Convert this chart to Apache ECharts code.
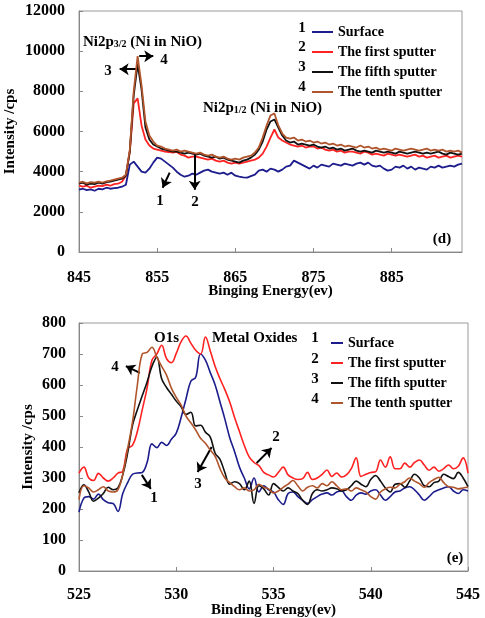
<!DOCTYPE html>
<html>
<head>
<meta charset="utf-8">
<script src="https://cdn.jsdelivr.net/npm/echarts@6/dist/echarts.min.js"></script>
<style>
  html, body { margin: 0; background: #fff; }
  #chart { width: 485px; height: 618px; }
</style>
</head>
<body>
<div id="chart"></div>
<script>
// Ni2p spectra (panel d)
const niEnergy = [
  845, 845.5, 846, 846.5, 847, 847.5, 848, 848.5, 849, 849.5,
  850, 850.5, 851, 851.5, 852, 852.5, 853, 853.5, 854, 854.5,
  855, 855.5, 856, 856.5, 857, 857.5, 858, 858.5, 859, 859.5,
  860, 860.5, 861, 861.5, 862, 862.5, 863, 863.5, 864, 864.5,
  865, 865.5, 866, 866.5, 867, 867.5, 868, 868.5, 869, 869.5,
  870, 870.5, 871, 871.5, 872, 872.5, 873, 873.5, 874, 874.5,
  875, 875.5, 876, 876.5, 877, 877.5, 878, 878.5, 879, 879.5,
  880, 880.5, 881, 881.5, 882, 882.5, 883, 883.5, 884, 884.5,
  885, 885.5, 886, 886.5, 887, 887.5, 888, 888.5, 889, 889.5,
  890, 890.5, 891, 891.5, 892, 892.5, 893, 893.5, 894
];
const niSurface = [
  3100, 3150, 3080, 3120, 3050, 3150, 3120, 3200, 3150, 3180,
  3200, 3250, 3350, 4350, 4500, 4250, 4000, 3950, 4150, 4450,
  4700, 4650, 4500, 4350, 4200, 4000, 3850, 3750, 3800, 3900,
  3850, 3950, 4050, 4100, 4000, 3950, 3900, 3950, 3850, 3950,
  3800, 3750, 3720, 3700, 3780, 3850, 4050, 4100, 4000, 4150,
  4100, 4000, 4100, 4250, 4300, 4550, 4450, 4350, 4250, 4150,
  4300, 4200, 4350, 4300, 4250, 4400, 4350, 4300, 4400, 4350,
  4300, 4400, 4450, 4350, 4450, 4300, 4250, 4300, 4150, 4050,
  4100, 4250, 4200, 4300, 4150, 4250, 4100, 4200, 4150, 4100,
  4250, 4200, 4300, 4200, 4250, 4300, 4250, 4350, 4400
];
const niFirst = [
  3300, 3250, 3300, 3200, 3250, 3300, 3280, 3350, 3300, 3380,
  3400, 3500, 3800, 5000, 7400, 7650, 6300, 5600, 5300, 5150,
  5100, 5050, 5000, 4980, 4950, 4980, 4850, 4800, 4700, 4750,
  4750, 4700, 4650, 4600, 4650, 4550, 4500, 4550, 4450, 4400,
  4450, 4400, 4450, 4500, 4550, 4600, 4700, 4900, 5250, 5700,
  6100, 5700, 5550, 5450, 5350, 5300, 5250, 5300, 5200, 5250,
  5250, 5150, 5200, 5100, 5050, 5100, 5000, 5050, 4950, 5000,
  5000, 4950, 4900, 5000, 4950, 4850, 4900, 4850, 4800, 4900,
  4850, 4800, 4850, 4800, 4750, 4800, 4850, 4750, 4800, 4700,
  4750, 4800, 4700, 4750, 4800, 4700, 4750, 4800, 4750
];
const niFifth = [
  3400, 3450, 3350, 3400, 3380, 3450, 3400, 3480, 3500, 3550,
  3600, 3650, 3800, 5000, 7800, 9350, 8100, 6200, 5600, 5350,
  5250, 5150, 5100, 5050, 5000, 5000, 4950, 4900, 4950, 4900,
  4850, 4900, 4800, 4750, 4700, 4750, 4650, 4700, 4600, 4550,
  4500, 4450, 4550, 4600, 4700, 4850, 5100, 5500, 6100, 6500,
  6600, 6200, 5800, 5550, 5450, 5500, 5350, 5400, 5350, 5300,
  5350, 5250, 5200, 5250, 5150, 5200, 5100, 5150, 5050, 5100,
  5150, 5050, 5000, 5050, 5000, 4950, 5050, 5000, 4950, 5000,
  4950, 4900, 5000, 4950, 4900, 4950, 5000, 4950, 4900, 4950,
  4900, 4950, 5000, 4900, 4850, 4950, 4900, 4850, 4900
];
const niTenth = [
  3450, 3500, 3420, 3480, 3450, 3500, 3460, 3520, 3550, 3600,
  3650, 3700, 3850, 5100, 8000, 9750, 8300, 6500, 5800, 5500,
  5300, 5250, 5150, 5100, 5050, 5100, 5000, 5050, 5000, 4950,
  4900, 4950, 4850, 4800, 4850, 4750, 4700, 4750, 4650, 4600,
  4650, 4600, 4700, 4750, 4800, 4950, 5200, 5700, 6300, 6800,
  6900, 6300, 5900, 5700, 5650, 5700, 5550, 5600, 5500, 5550,
  5450, 5500, 5400, 5450, 5350, 5400, 5300, 5350, 5250, 5300,
  5250, 5200, 5300, 5200, 5250, 5150, 5200, 5100, 5150, 5100,
  5050, 5150, 5100, 5050, 5100, 5150, 5100, 5050, 5100, 5150,
  5050, 5100, 5050, 5100, 5000, 5050, 5000, 5050, 4950
];

// O1s spectra (panel e)
const oEnergy = [
  525, 525.25, 525.5, 525.75, 526, 526.25, 526.5, 526.75,
  527, 527.25, 527.5, 527.75, 528, 528.25, 528.5, 528.75,
  529, 529.25, 529.5, 529.75, 530, 530.25, 530.5, 530.75,
  531, 531.25, 531.5, 531.75, 532, 532.25, 532.5, 532.75,
  533, 533.25, 533.5, 533.75, 534, 534.25, 534.5, 534.75,
  535, 535.25, 535.5, 535.75, 536, 536.25, 536.5, 536.75,
  537, 537.25, 537.5, 537.75, 538, 538.25, 538.5, 538.75,
  539, 539.25, 539.5, 539.75, 540, 540.25, 540.5, 540.75,
  541, 541.25, 541.5, 541.75, 542, 542.25, 542.5, 542.75,
  543, 543.25, 543.5, 543.75, 544, 544.25, 544.5, 544.75,
  545
];
const oSurface = [
  190, 235, 240, 232, 248, 230, 220, 218,
  192, 250, 285, 312, 316, 318, 350, 410,
  398, 415, 405, 425, 445, 495, 555, 612,
  625, 700, 680, 640, 600, 545, 490, 430,
  385, 335, 300, 265, 300, 255, 275, 262,
  255, 230, 215, 250, 255, 240, 228, 218,
  230, 240, 248, 252, 245, 255, 258, 240,
  228, 245, 252, 248, 258, 262, 245, 228,
  240, 255, 258, 268, 272, 262, 245, 228,
  240, 255, 262, 268, 272, 258, 250, 262,
  258
];
const oFirst = [
  316, 335, 300, 292, 315, 300, 290, 300,
  316, 322, 395, 405, 450, 520, 590, 680,
  700, 728, 685, 672, 702, 740, 758, 735,
  712, 700, 755, 710, 660, 620, 585, 545,
  495, 450, 405, 368, 350, 340, 318, 310,
  303, 318, 335, 310, 300, 295, 298, 318,
  295, 300, 312, 326, 305, 316, 303, 310,
  330, 365, 305, 312, 318, 320, 358, 335,
  368, 330, 330, 348, 335, 350, 358, 342,
  325, 335, 322, 330, 342, 330, 338, 365,
  316
];
const oFifth = [
  252, 278, 255, 225, 235, 250, 270, 262,
  268, 310, 380, 470, 520, 565, 610, 660,
  690, 620, 592, 570, 548, 530, 505, 512,
  468, 470, 448, 432, 380, 360, 318, 280,
  288, 282, 262, 290, 218, 275, 265, 245,
  282, 270, 258, 268, 258, 250, 228, 215,
  250, 262, 258, 262, 268, 265, 258, 262,
  275, 290, 280, 272, 295, 308, 290, 268,
  255, 280, 282, 270, 290, 312, 300, 275,
  272, 285, 290, 312, 305, 298, 318, 300,
  272
];
const oTenth = [
  230, 275, 268, 255, 262, 272, 258, 255,
  262, 312, 395, 480, 600, 700, 705, 722,
  690, 660, 632, 590, 560, 535, 500, 478,
  455, 428, 412, 390, 370, 330, 300, 285,
  272, 262, 268, 258, 262, 280, 270, 265,
  252, 258, 270, 280, 292, 275, 258, 270,
  275, 268, 282, 275, 288, 275, 262, 265,
  258, 268, 262, 255, 240, 232, 255, 265,
  270, 268, 280, 288, 300, 290, 282, 270,
  285, 295, 302, 285, 272, 270, 265, 268,
  270
];

const seriesNames = ['Surface', 'The first sputter', 'The fifth sputter', 'The tenth sputter'];
const seriesColors = ['#1c1c8c', '#ff2222', '#111111', '#b0542c'];

// arrows drawn in data coordinates: [start, end]
const niArrows = [
  [[852.5, 9100], [850.2, 9100]],
  [[852.7, 9750], [854.5, 9750]],
  [[856.6, 3950], [855.7, 3200]],
  [[859.8, 4850], [859.8, 3100]]
];
const oArrows = [
  [[528.13, 639], [527.41, 661]],
  [[528.23, 310], [528.69, 265]],
  [[531.82, 400], [531.10, 319]],
  [[534.13, 348], [534.90, 397]]
];

const FONT = '"Liberation Serif", "Times New Roman", serif';

function pairs(xs, ys) {
  return xs.map((x, i) => [x, ys[i]]);
}

function arrowMarks(arrows) {
  return {
    silent: true,
    animation: false,
    symbol: ['none', 'arrow'],
    symbolSize: 9,
    label: { show: false },
    lineStyle: { color: '#000', width: 2, type: 'solid' },
    emphasis: { disabled: true },
    data: arrows.map(a => [{ coord: a[0] }, { coord: a[1] }])
  };
}

function label(x, y, text, extra) {
  return {
    type: 'text', x: x, y: y, silent: true,
    style: Object.assign({
      text: text, fill: '#000',
      fontFamily: FONT, fontWeight: 'bold', fontSize: 15,
      align: 'center', verticalAlign: 'middle'
    }, extra || {})
  };
}

const subRich = {
  s: { fontFamily: FONT, fontWeight: 'bold', fontSize: 10, verticalAlign: 'bottom', padding: [5, 0, 0, 0] }
};

const niSets = [niSurface, niFirst, niFifth, niTenth];
const oSets = [oSurface, oFirst, oFifth, oTenth];

const axisText = { fontFamily: FONT, fontWeight: 'bold', fontSize: 16, color: '#000', formatter: v => String(v) };
const nameText = { fontFamily: FONT, fontWeight: 'bold', fontSize: 15, color: '#000' };
const axisLine = { show: true, lineStyle: { color: '#888', width: 1 } };
const axisTick = { show: true, inside: true, length: 4, lineStyle: { color: '#888' } };

const series = [];
niSets.forEach((vals, i) => {
  series.push({
    name: seriesNames[i], type: 'line', xAxisIndex: 0, yAxisIndex: 0,
    data: pairs(niEnergy, vals), showSymbol: false, symbol: 'none',
    lineStyle: { color: seriesColors[i], width: 1.8 }, itemStyle: { color: seriesColors[i] },
    z: 2 + i, markLine: i === 2 ? arrowMarks(niArrows) : undefined
  });
});
oSets.forEach((vals, i) => {
  series.push({
    name: seriesNames[i], type: 'line', xAxisIndex: 1, yAxisIndex: 1,
    data: pairs(oEnergy, vals), showSymbol: false, symbol: 'none', smooth: 0.4,
    lineStyle: { color: seriesColors[i], width: 1.6 }, itemStyle: { color: seriesColors[i] },
    z: 2 + i, markLine: i === 2 ? arrowMarks(oArrows) : undefined
  });
});

const legendBase = {
  orient: 'vertical', icon: 'rect', itemHeight: 2, itemGap: 6,
  selectedMode: false, data: seriesNames,
  textStyle: { fontFamily: FONT, fontWeight: 'bold', fontSize: 14, color: '#000', lineHeight: 14 }
};

const chart = echarts.init(document.getElementById('chart'));
chart.setOption({
  animation: false,
  backgroundColor: '#fff',
  grid: [
    { left: 79, top: 11, width: 383, height: 241, show: true, borderColor: '#999', borderWidth: 1,
      containLabel: false, outerBoundsMode: 'none' },
    { left: 79, top: 323, width: 389, height: 248, show: true, borderColor: '#999', borderWidth: 1,
      containLabel: false, outerBoundsMode: 'none' }
  ],
  xAxis: [
    {
      gridIndex: 0, type: 'value', min: 845, max: 894, interval: 10,
      name: 'Binging Energy(ev)', nameLocation: 'middle', nameGap: 32, nameMoveOverlap: false,
      nameTextStyle: nameText,
      axisLine: axisLine, axisTick: axisTick, splitLine: { show: false },
      axisLabel: Object.assign({ margin: 18, showMaxLabel: false }, axisText)
    },
    {
      gridIndex: 1, type: 'value', min: 525, max: 545, interval: 5,
      name: 'Binding Erengy(ev)', nameLocation: 'middle', nameGap: 32, nameMoveOverlap: false,
      nameTextStyle: nameText,
      axisLine: axisLine, axisTick: axisTick, splitLine: { show: false },
      axisLabel: Object.assign({ margin: 16 }, axisText)
    }
  ],
  yAxis: [
    {
      gridIndex: 0, type: 'value', min: 0, max: 12000, interval: 2000,
      name: 'Intensity /cps', nameLocation: 'middle', nameGap: 61, nameMoveOverlap: false,
      nameTextStyle: nameText,
      axisLine: axisLine, axisTick: axisTick, splitLine: { show: false },
      axisLabel: Object.assign({ margin: 14 }, axisText)
    },
    {
      gridIndex: 1, type: 'value', min: 0, max: 800, interval: 100,
      name: 'Intensity /cps', nameLocation: 'middle', nameGap: 43, nameMoveOverlap: false,
      nameTextStyle: nameText,
      axisLine: axisLine, axisTick: axisTick, splitLine: { show: false },
      axisLabel: Object.assign({ margin: 13 }, axisText)
    }
  ],
  legend: [
    Object.assign({ left: 307, top: 20, itemWidth: 21 }, legendBase),
    Object.assign({ left: 326, top: 331, itemWidth: 12 }, legendBase)
  ],
  graphic: [
    label(302, 28, '1'), label(302, 47, '2'), label(302, 67, '3'), label(302, 87, '4'),
    label(315, 338, '1'), label(315, 359, '2'), label(315, 379, '3'), label(315, 399, '4'),
    label(83, 42, 'Ni2p{s|3/2} (Ni in NiO)', { align: 'left', rich: subRich }),
    label(203, 108, 'Ni2p{s|1/2} (Ni in NiO)', { align: 'left', rich: subRich }),
    label(108, 71, '3'), label(164, 60, '4'), label(160, 201, '1'), label(195, 202, '2'),
    label(442, 239, '(d)'),
    label(154, 338, 'O1s', { align: 'left' }),
    label(212, 338, 'Metal Oxides', { align: 'left' }),
    label(115, 367, '4'), label(154, 498, '1'), label(198, 484, '3'), label(276, 437, '2'),
    label(455, 558, '(e)')
  ],
  series: series
});
</script>
</body>
</html>
